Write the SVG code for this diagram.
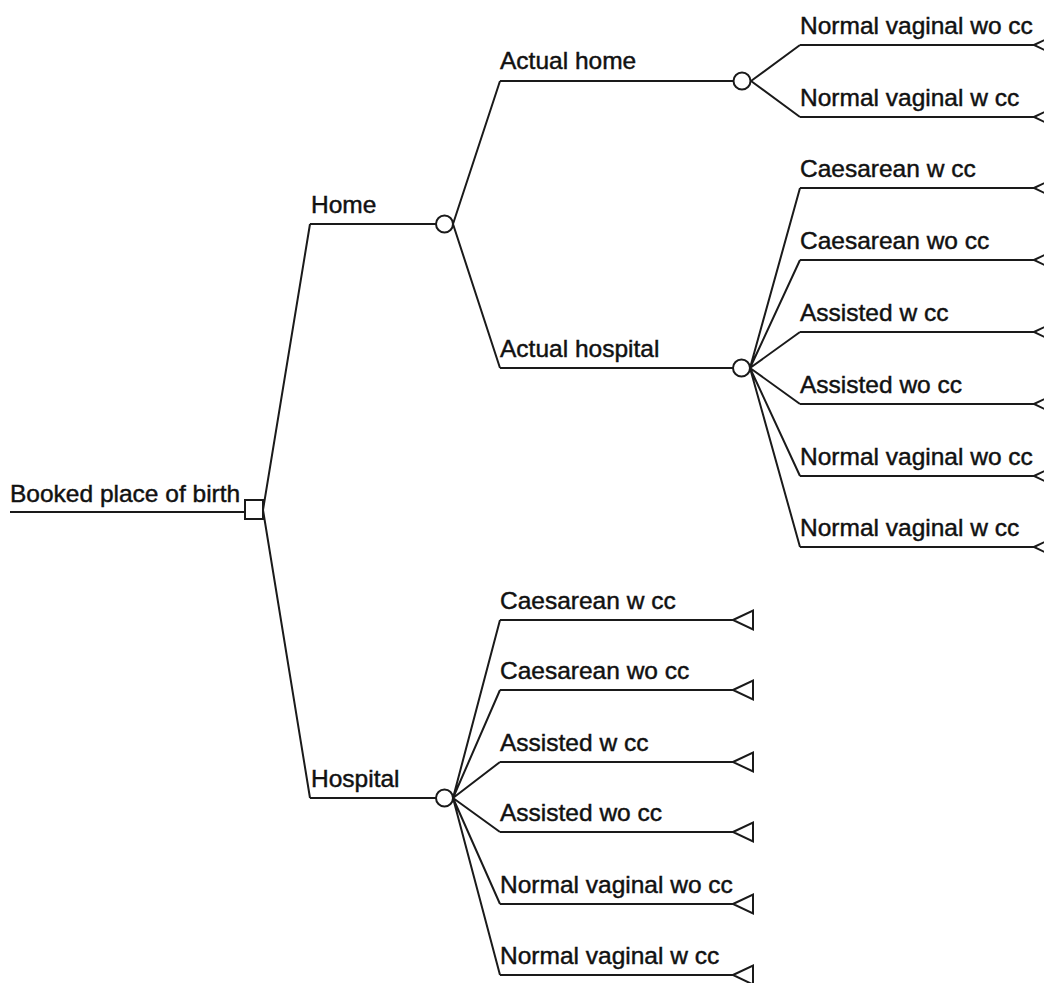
<svg xmlns="http://www.w3.org/2000/svg" width="1044" height="983" viewBox="0 0 1044 983">
<style>
.ln{fill:none;stroke:#1a1a1a;stroke-width:2}
.nd{fill:#fff;stroke:#1a1a1a;stroke-width:2}
text{font-family:"Liberation Sans",Arial,sans-serif;font-size:24.5px;fill:#111;stroke:#111;stroke-width:0.45}
</style>
<defs>
<path id="tri" d="M0,0 L20,-9.5 L20,9.5 Z" class="nd"/>
</defs>
<rect width="1044" height="983" fill="#fff"/>
<g id="connectors">
<path class="ln" d="M263,510 L310,224 M263,510 L310,798"/>
<path class="ln" d="M453,224 L500,81 M453,224 L500,368"/>
<path class="ln" d="M751,81 L800,45 M751,81 L800,117"/>
<path class="ln" d="M750,368 L800,188 M750,368 L800,260 M750,368 L800,332 M750,368 L800,404 M750,368 L800,476 M750,368 L800,547"/>
<path class="ln" d="M453,798 L500,620 M453,798 L500,690 M453,798 L500,762 M453,798 L500,832 M453,798 L500,904 M453,798 L500,975"/>
</g>
<g id="root">
<path class="ln" d="M10,512 H245"/>
<rect class="nd" x="245" y="500" width="18" height="19"/>
<text x="10" y="502">Booked place of birth</text>
</g>
<g id="home">
<path class="ln" d="M310,224 H436"/>
<circle class="nd" cx="444.5" cy="224" r="8.5"/>
<text x="311" y="213">Home</text>
</g>
<g id="actual-home">
<path class="ln" d="M500,81 H733"/>
<circle class="nd" cx="742" cy="81" r="8.5"/>
<text x="500" y="69">Actual home</text>
</g>
<g id="ah-nv-wo"><path class="ln" d="M800,45 H1034"/><use href="#tri" x="1034" y="45"/><text x="800" y="34">Normal vaginal wo cc</text></g>
<g id="ah-nv-w"><path class="ln" d="M800,117 H1034"/><use href="#tri" x="1034" y="117"/><text x="800" y="106">Normal vaginal w cc</text></g>
<g id="actual-hospital">
<path class="ln" d="M500,368 H733"/>
<circle class="nd" cx="741.5" cy="368" r="8.5"/>
<text x="500" y="357">Actual hospital</text>
</g>
<g id="ahos-cs-w"><path class="ln" d="M800,188 H1034"/><use href="#tri" x="1034" y="188"/><text x="800" y="177">Caesarean w cc</text></g>
<g id="ahos-cs-wo"><path class="ln" d="M800,260 H1034"/><use href="#tri" x="1034" y="260"/><text x="800" y="249">Caesarean wo cc</text></g>
<g id="ahos-as-w"><path class="ln" d="M800,332 H1034"/><use href="#tri" x="1034" y="332"/><text x="800" y="321">Assisted w cc</text></g>
<g id="ahos-as-wo"><path class="ln" d="M800,404 H1034"/><use href="#tri" x="1034" y="404"/><text x="800" y="393">Assisted wo cc</text></g>
<g id="ahos-nv-wo"><path class="ln" d="M800,476 H1034"/><use href="#tri" x="1034" y="476"/><text x="800" y="465">Normal vaginal wo cc</text></g>
<g id="ahos-nv-w"><path class="ln" d="M800,547 H1034"/><use href="#tri" x="1034" y="547"/><text x="800" y="536">Normal vaginal w cc</text></g>
<g id="hospital">
<path class="ln" d="M310,798 H436"/>
<circle class="nd" cx="444.5" cy="798" r="8.5"/>
<text x="311" y="787">Hospital</text>
</g>
<g id="hos-cs-w"><path class="ln" d="M500,620 H733"/><use href="#tri" x="733" y="620"/><text x="500" y="609">Caesarean w cc</text></g>
<g id="hos-cs-wo"><path class="ln" d="M500,690 H733"/><use href="#tri" x="733" y="690"/><text x="500" y="679">Caesarean wo cc</text></g>
<g id="hos-as-w"><path class="ln" d="M500,762 H733"/><use href="#tri" x="733" y="762"/><text x="500" y="751">Assisted w cc</text></g>
<g id="hos-as-wo"><path class="ln" d="M500,832 H733"/><use href="#tri" x="733" y="832"/><text x="500" y="821">Assisted wo cc</text></g>
<g id="hos-nv-wo"><path class="ln" d="M500,904 H733"/><use href="#tri" x="733" y="904"/><text x="500" y="893">Normal vaginal wo cc</text></g>
<g id="hos-nv-w"><path class="ln" d="M500,975 H733"/><use href="#tri" x="733" y="975"/><text x="500" y="964">Normal vaginal w cc</text></g>
</svg>
